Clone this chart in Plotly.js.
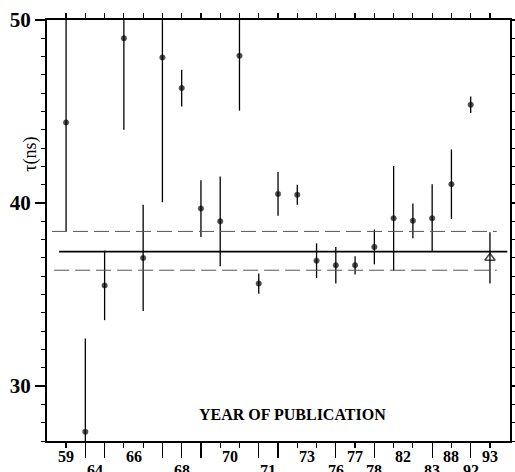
<!DOCTYPE html>
<html>
<head>
<meta charset="utf-8">
<script src="https://cdn.plot.ly/plotly-3.0.1.min.js"></script>
<style>html,body{margin:0;padding:0;background:#fff;}#chart{width:515px;height:472px;}</style>
</head>
<body>
<div id="chart"></div>
<script>
// Year of publication for each measurement (in plotted order)
const years = ['59','64','64','66','66','68','68','68','70','70','71','71','73','73','76','77','78','82','82','83','88','92','93'];
// Lifetime tau (ns) and its error
const tau = [44.4, 27.5, 35.5, 49.0, 37.0, 47.95, 46.28, 39.7, 39.0, 48.05, 35.6, 40.5, 40.45, 36.85, 36.6, 36.6, 37.6, 39.17, 39.03, 39.17, 41.03, 45.37, 37.0];
const tauErr = [5.95, 5.1, 1.9, 5.0, 2.9, 7.9, 1.0, 1.55, 2.45, 3.0, 0.55, 1.2, 0.55, 0.95, 1.0, 0.5, 0.95, 2.85, 0.95, 1.85, 1.9, 0.45, 1.4];
// Weighted mean and its band
const meanTau = 37.35;
const bandUpper = 38.45;
const bandLower = 36.33;

const idx = tau.map((_, i) => i);
const nPts = tau.length;

// group consecutive years
const groups = [];
years.forEach((y, i) => {
  if (groups.length && groups[groups.length - 1].label === y) groups[groups.length - 1].idx.push(i);
  else groups.push({label: y, idx: [i]});
});
const lowerIdx = [];
groups.forEach((g, k) => { if (k % 2 === 1) lowerIdx.push(...g.idx); });

const serif = 'Liberation Serif, Times New Roman, serif';

const traces = [
  {
    x: idx, y: tau, type: 'scatter', mode: 'markers',
    error_y: {type: 'data', array: tauErr, visible: true, width: 0, thickness: 1.3, color: '#000'},
    marker: {
      color: '#000',
      symbol: idx.map(i => i === nPts - 1 ? 'triangle-up-open' : 'circle'),
      size: idx.map(i => i === nPts - 1 ? 9 : 5.5),
      line: {color: '#000', width: idx.map(i => i === nPts - 1 ? 1.6 : 0.5)}
    },
    showlegend: false, hoverinfo: 'skip', cliponaxis: true
  },
  {x: [0], y: [null], xaxis: 'x2', type: 'scatter', mode: 'markers', showlegend: false, hoverinfo: 'skip'}
];

const annotations = groups.map((g, k) => {
  const c = g.idx.reduce((a, b) => a + b, 0) / g.idx.length;
  return {
    x: c, xref: 'x', y: 0, yref: 'paper', yanchor: 'top', xanchor: 'center',
    yshift: k % 2 === 0 ? -5 : -19, showarrow: false, text: g.label,
    font: {family: serif, size: 16, color: '#000', weight: 700}
  };
});
annotations.push({
  x: -0.063, xref: 'paper', y: 0.727, yref: 'paper', textangle: -90, showarrow: false,
  text: 'τ(ns)', font: {family: serif, size: 18, color: '#000'}
});
annotations.push({
  x: 0.531, xref: 'paper', y: 0.037, yref: 'paper', showarrow: false,
  text: 'YEAR OF PUBLICATION', font: {family: serif, size: 16, color: '#000', weight: 700}
});

const shapes = [
  {type: 'line', xref: 'x', yref: 'y', x0: -0.36, x1: 22.9, y0: meanTau, y1: meanTau, line: {color: '#000', width: 1.8}},
  {type: 'line', xref: 'x', yref: 'y', x0: -0.73, x1: 22.35, y0: bandUpper, y1: bandUpper, line: {color: '#555', width: 1, dash: '15px,6px'}},
  {type: 'line', xref: 'x', yref: 'y', x0: -0.62, x1: 22.35, y0: bandLower, y1: bandLower, line: {color: '#555', width: 1, dash: '15px,6px'}}
];

const layout = {
  width: 515, height: 472,
  margin: {l: 47, r: 5, t: 20, b: 31, pad: 0},
  paper_bgcolor: '#fff', plot_bgcolor: '#fff',
  showlegend: false,
  xaxis: {
    range: [-0.99, 23.04], tickmode: 'array', tickvals: idx, showticklabels: false,
    ticks: 'outside', ticklen: 5, tickwidth: 1.2, tickcolor: '#000',
    showline: true, linewidth: 2, linecolor: '#000', mirror: 'ticks',
    showgrid: false, zeroline: false, fixedrange: true
  },
  xaxis2: {
    overlaying: 'x', anchor: 'y', side: 'bottom', matches: 'x',
    range: [-0.99, 23.04], tickmode: 'array', tickvals: lowerIdx, showticklabels: false,
    ticks: 'outside', ticklen: 16, tickwidth: 1.2, tickcolor: '#000',
    showline: false, showgrid: false, zeroline: false
  },
  yaxis: {
    range: [27, 50], tickmode: 'array', tickvals: [30, 40, 50],
    ticks: 'outside', ticklen: 10, tickwidth: 1.5, tickcolor: '#000',
    minor: {dtick: 1, tick0: 0, ticks: 'outside', ticklen: 4, tickwidth: 1, tickcolor: '#000', showgrid: false},
    tickfont: {family: serif, size: 21, color: '#000', weight: 700},
    showline: true, linewidth: 2, linecolor: '#000', mirror: 'ticks',
    showgrid: false, zeroline: false, fixedrange: true
  },
  shapes: shapes,
  annotations: annotations
};

Plotly.newPlot('chart', traces, layout, {staticPlot: true, displayModeBar: false});
</script>
</body>
</html>
